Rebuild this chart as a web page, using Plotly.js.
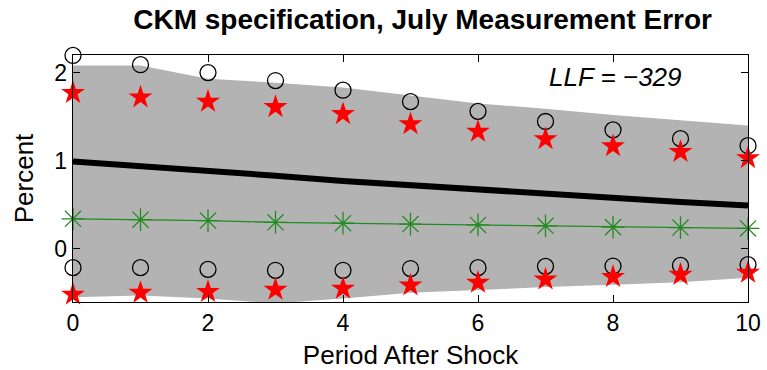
<!DOCTYPE html>
<html>
<head>
<meta charset="utf-8">
<script src="https://cdn.plot.ly/plotly-3.0.1.min.js"></script>
<style>html,body{margin:0;padding:0;background:#fff;}#chart{width:767px;height:370px;}</style>
</head>
<body>
<div id="chart"></div>
<script>
const periods = [0, 1, 2, 3, 4, 5, 6, 7, 8, 9, 10];
const bandUpper = [2.08, 2.08, 1.93, 1.885, 1.83, 1.74, 1.65, 1.59, 1.52, 1.46, 1.40];
const bandLower = [-0.55, -0.53, -0.565, -0.62, -0.565, -0.50, -0.47, -0.435, -0.41, -0.38, -0.33];
const medianIRF = [0.99, 0.94, 0.89, 0.83, 0.77, 0.72, 0.67, 0.62, 0.57, 0.53, 0.49];
const greenIRF = [0.34, 0.33, 0.32, 0.30, 0.29, 0.28, 0.27, 0.26, 0.245, 0.24, 0.23];
const upperCircles = [2.195, 2.09, 2.00, 1.91, 1.80, 1.67, 1.56, 1.445, 1.35, 1.25, 1.17];
const upperStars = [1.77, 1.72, 1.67, 1.61, 1.53, 1.415, 1.33, 1.245, 1.165, 1.10, 1.03];
const lowerCircles = [-0.215, -0.215, -0.235, -0.245, -0.245, -0.225, -0.215, -0.20, -0.197, -0.19, -0.18];
const lowerStars = [-0.52, -0.50, -0.49, -0.465, -0.453, -0.415, -0.385, -0.348, -0.32, -0.295, -0.272];
const xTicks = [0, 2, 4, 6, 8, 10];
const yTicks = [0, 1, 2];
const titleText = 'CKM specification, July Measurement Error';
const xTitle = 'Period After Shock';
const yTitle = 'Percent';
const llfText = 'LLF = \u2212329';

const FONT = 'Liberation Sans, Arial, Helvetica, sans-serif';

const bandX = periods.concat(periods.slice().reverse());
const bandY = bandUpper.concat(bandLower.slice().reverse());

const traces = [
  {x: bandX, y: bandY, type: 'scatter', mode: 'lines', fill: 'toself',
   fillcolor: '#b3b3b3', line: {width: 0, color: '#b3b3b3'}, hoverinfo: 'skip'},
  {x: periods, y: medianIRF, type: 'scatter', mode: 'lines',
   line: {color: '#000', width: 6}},
  {x: periods, y: greenIRF, type: 'scatter', mode: 'lines+markers', cliponaxis: false,
   line: {color: '#228b22', width: 1.3},
   marker: {symbol: 'asterisk-open', size: 19, color: '#228b22', line: {color: '#228b22', width: 1.3}}},
  {x: periods, y: upperCircles, type: 'scatter', mode: 'markers', cliponaxis: false,
   marker: {symbol: 'circle-open', size: 16, color: '#000', line: {color: '#000', width: 1.3}}},
  {x: periods, y: lowerCircles, type: 'scatter', mode: 'markers', cliponaxis: false,
   marker: {symbol: 'circle-open', size: 16, color: '#000', line: {color: '#000', width: 1.3}}},
  {x: periods, y: upperStars, type: 'scatter', mode: 'markers', cliponaxis: false,
   marker: {symbol: 'star', size: 18, color: '#ff0000', line: {width: 0}}},
  {x: periods, y: lowerStars, type: 'scatter', mode: 'markers', cliponaxis: false,
   marker: {symbol: 'star', size: 18, color: '#ff0000', line: {width: 0}}}
];

const layout = {
  width: 767, height: 370,
  margin: {l: 73, r: 19, t: 55, b: 68, pad: 0},
  paper_bgcolor: '#fff', plot_bgcolor: '#fff',
  showlegend: false,
  font: {family: FONT, color: '#000'},
  title: {text: '<b>' + titleText + '</b>', font: {family: FONT, size: 28, color: '#000'},
          x: 0.551, xanchor: 'center', y: 0.948, yanchor: 'middle'},
  xaxis: {
    range: [0, 10], tickvals: xTicks, ticktext: xTicks.map(String),
    ticks: 'inside', ticklen: 7, tickwidth: 1, tickcolor: '#000',
    showline: true, linecolor: '#000', linewidth: 1.3, mirror: 'ticks',
    showgrid: false, zeroline: false,
    tickfont: {family: FONT, size: 23, color: '#000'},
    title: {text: xTitle, font: {family: FONT, size: 26, color: '#000'}, standoff: 12}
  },
  yaxis: {
    range: [-0.605, 2.2], tickvals: yTicks, ticktext: yTicks.map(String),
    ticks: 'inside', ticklen: 7, tickwidth: 1, tickcolor: '#000',
    showline: true, linecolor: '#000', linewidth: 1.3, mirror: 'ticks',
    showgrid: false, zeroline: false,
    tickfont: {family: FONT, size: 23, color: '#000'},
    title: {text: yTitle, font: {family: FONT, size: 26, color: '#000'}, standoff: 13}
  },
  annotations: [
    {text: '<i>' + llfText + '</i>', x: 8.03, y: 1.955, xref: 'x', yref: 'y',
     showarrow: false, xanchor: 'center', yanchor: 'middle',
     font: {family: FONT, size: 26, color: '#000'}}
  ]
};

Plotly.newPlot('chart', traces, layout, {displayModeBar: false, staticPlot: true});
</script>
</body>
</html>
